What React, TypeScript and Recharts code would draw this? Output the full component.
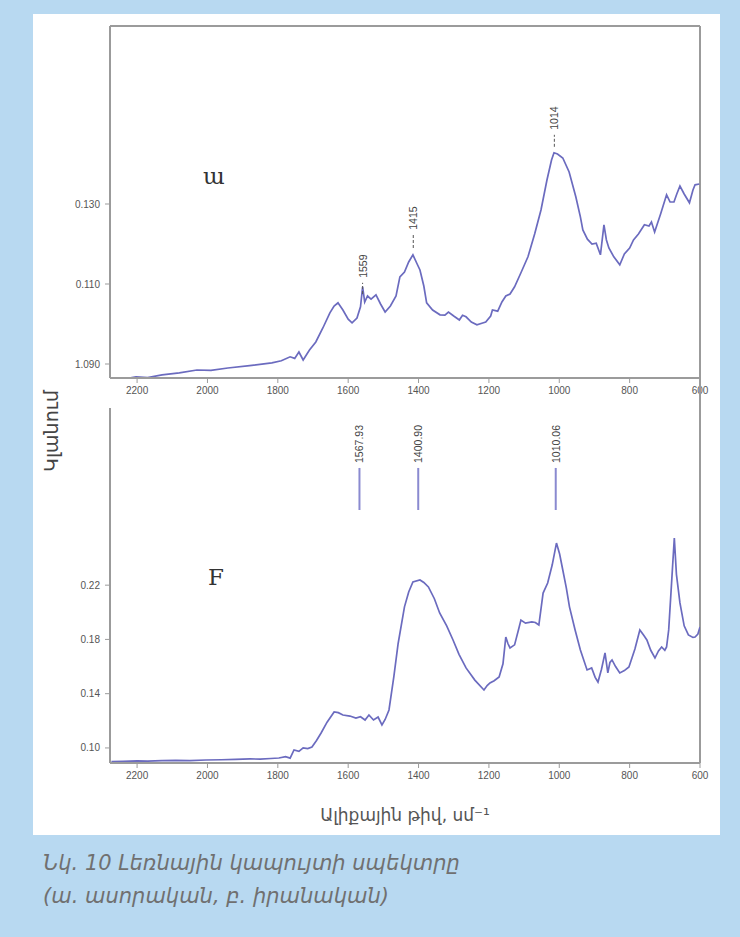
import { Label, Line, LineChart, ReferenceLine, XAxis, YAxis } from "recharts";

// wavenumber (cm-1) and absorbance
const topWavenumbers = [
  2273, 2240, 2203, 2170, 2129, 2080, 2030, 1990, 1942, 1880, 1817, 1790, 1765, 1752, 1740, 1728, 1710,
  1692, 1672, 1652, 1640, 1629, 1615, 1600, 1589, 1575, 1565, 1559, 1553, 1545, 1535, 1521, 1508, 1495,
  1480, 1464, 1453, 1440, 1428, 1416, 1404, 1396, 1385, 1377, 1360, 1339, 1325, 1315, 1300, 1284, 1275,
  1265, 1250, 1234, 1220, 1209, 1195, 1190, 1175, 1163, 1152, 1140, 1127, 1108, 1089, 1070, 1052, 1035,
  1022, 1015, 1005, 990, 972, 953, 940, 933, 920, 907, 895, 883, 873, 866, 859, 845, 828, 815, 800, 789,
  775, 758, 745, 738, 729, 712, 695, 685, 674, 666, 657, 645, 630, 620, 614, 602,
];
const topAbsorbance = [
  0.0865, 0.0862, 0.0868, 0.0866, 0.0873, 0.0878, 0.0885, 0.0884, 0.089, 0.0896, 0.0903, 0.0908, 0.0918,
  0.0914, 0.093, 0.091, 0.0935, 0.0955, 0.099, 0.1028, 0.1045, 0.1053, 0.1035, 0.1012, 0.1003, 0.1015,
  0.1043, 0.1093, 0.1055, 0.107, 0.1062, 0.1073, 0.105, 0.103, 0.1045, 0.107, 0.1118, 0.113, 0.1155,
  0.1173, 0.115, 0.1135, 0.1095, 0.1053, 0.1035, 0.1023, 0.1022, 0.103, 0.102, 0.101, 0.1022, 0.1018,
  0.1005, 0.0998, 0.1002, 0.1005, 0.102, 0.1035, 0.1032, 0.1055, 0.107, 0.1075, 0.1093, 0.113, 0.1168,
  0.1225, 0.1285, 0.136, 0.141, 0.1428, 0.1425, 0.1415, 0.138, 0.1318, 0.1268, 0.1235, 0.1212, 0.12,
  0.1202, 0.1173, 0.1248, 0.121, 0.119, 0.1168, 0.1148, 0.1175, 0.119, 0.121, 0.1225, 0.1248, 0.1245,
  0.1255, 0.123, 0.1275, 0.1323, 0.1305, 0.1305, 0.1325, 0.1345, 0.1325, 0.1303, 0.1335, 0.1348, 0.135,
];

const bottomWavenumbers = [
  2273, 2240, 2200, 2170, 2129, 2090, 2050, 2004, 1960, 1920, 1879, 1850, 1820, 1797, 1778, 1765, 1754,
  1740, 1728, 1715, 1703, 1690, 1677, 1660, 1640, 1628, 1615, 1595, 1578, 1565, 1552, 1541, 1528, 1515,
  1504, 1495, 1484, 1470, 1458, 1440, 1428, 1416, 1396, 1385, 1372, 1355, 1340, 1320, 1302, 1285, 1265,
  1240, 1214, 1205, 1197, 1185, 1171, 1160, 1152, 1146, 1140, 1127, 1115, 1109, 1096, 1078, 1068, 1058,
  1046, 1033, 1020, 1008, 999, 990, 980, 971, 955, 940, 921, 908, 898, 890, 880, 870, 862, 856, 850, 840,
  828, 815, 802, 785, 771, 760, 751, 740, 728, 718, 709, 700, 695, 689, 680, 673, 667, 657, 645, 633, 620,
  614, 606, 600,
];
const bottomAbsorbance = [
  0.0899, 0.0902, 0.0905, 0.0903, 0.0906, 0.0908, 0.0907, 0.0911, 0.0913, 0.0916, 0.0919, 0.0918, 0.0922,
  0.0926, 0.0936, 0.0925, 0.0985, 0.0975, 0.1, 0.0995, 0.1007, 0.1055, 0.111, 0.119, 0.1265, 0.126,
  0.1243, 0.1235, 0.122, 0.123, 0.1206, 0.1243, 0.1206, 0.1228, 0.117, 0.121, 0.128, 0.153, 0.177, 0.204,
  0.215, 0.2223, 0.2238, 0.222, 0.2187, 0.21, 0.1995, 0.19, 0.1796, 0.169, 0.159, 0.15, 0.1427, 0.146,
  0.1479, 0.1495, 0.1523, 0.162, 0.1818, 0.177, 0.1737, 0.176, 0.188, 0.1943, 0.192, 0.1929, 0.1925,
  0.1906, 0.2142, 0.2216, 0.235, 0.251, 0.243, 0.2312, 0.218, 0.204, 0.187, 0.1722, 0.1575, 0.159, 0.152,
  0.1486, 0.158, 0.17, 0.1553, 0.163, 0.1649, 0.16, 0.1553, 0.157, 0.1597, 0.173, 0.187, 0.183, 0.1796,
  0.172, 0.1663, 0.1715, 0.1744, 0.172, 0.1744, 0.187, 0.225, 0.2548, 0.228, 0.2069, 0.19, 0.1833, 0.1815,
  0.1818, 0.184, 0.1892,
];

const xTicks = [2200, 2000, 1800, 1600, 1400, 1200, 1000, 800, 600];
const topYTicks = [0.09, 0.11, 0.13];
const topYLabels = ["1.090", "0.110", "0.130"];
const bottomYTicks = [0.1, 0.14, 0.18, 0.22];
const bottomYLabels = ["0.10", "0.14", "0.18", "0.22"];

const topPeaks = [1559, 1415, 1014];
const topPeakLabels = ["1559", "1415", "1014"];
const topPeakFrom = [0.1075, 0.119, 0.1443];
const topPeakTo = [0.1103, 0.1223, 0.1473];

const bottomPeaks = [1567.93, 1400.9, 1010.06];
const bottomPeakLabels = ["1567.93", "1400.90", "1010.06"];
const bottomPeakFrom = 0.2754;
const bottomPeakTo = 0.3064;

const topData = topWavenumbers.map((w, i) => ({ w, v: topAbsorbance[i] }));
const bottomData = bottomWavenumbers.map((w, i) => ({ w, v: bottomAbsorbance[i] }));

const X_DOMAIN: [number, number] = [600, 2277];
const TOP_Y: [number, number] = [0.0865, 0.1745];
const BOTTOM_Y: [number, number] = [0.0889, 0.3506];
const LINE = "#6b6bbf";
const AXIS = "#9b9b9b";
const tickStyle = { fontSize: 10, fill: "#555", fontFamily: "'Liberation Sans', Arial, sans-serif" };

const PeakLabel = (props: any) => {
  const vb = props.viewBox || {};
  const x = (vb.x ?? 0) + (vb.width ?? 0) / 2;
  const y = (vb.y ?? 0) - 5;
  return (
    <text
      x={x}
      y={y}
      transform={`rotate(-90 ${x} ${y})`}
      textAnchor="start"
      dominantBaseline="central"
      fontSize={10.5}
      fill="#444"
      fontFamily="'Liberation Sans', Arial, sans-serif"
    >
      {props.value}
    </text>
  );
};

const fmt = (ticks: number[], labels: string[]) => (v: number) => {
  const i = ticks.findIndex((t) => Math.abs(t - v) < 1e-6);
  return i >= 0 ? labels[i] : "";
};

export default function App() {
  return (
    <div
      style={{
        position: "absolute",
        left: 0,
        top: 0,
        width: 740,
        height: 937,
        background: "#b8d9f1",
        overflow: "hidden",
      }}
    >
      <div style={{ position: "absolute", left: 33, top: 14, width: 687, height: 821, background: "#fff" }} />

      <div style={{ position: "absolute", left: 0, top: 0 }}>
        <LineChart width={740} height={420} data={topData} margin={{ top: 26, right: 40, bottom: 0, left: 0 }}>
          <XAxis
            dataKey="w"
            type="number"
            domain={X_DOMAIN}
            reversed
            ticks={xTicks}
            allowDataOverflow
            height={42}
            tick={tickStyle}
            tickSize={5}
            tickMargin={4}
            axisLine={{ stroke: AXIS, strokeWidth: 2 }}
            tickLine={{ stroke: AXIS }}
          />
          <YAxis
            type="number"
            domain={TOP_Y}
            ticks={topYTicks}
            tickFormatter={fmt(topYTicks, topYLabels)}
            allowDataOverflow
            width={110}
            tick={tickStyle}
            tickSize={5}
            tickMargin={5}
            axisLine={{ stroke: AXIS, strokeWidth: 2 }}
            tickLine={{ stroke: AXIS }}
          />
          {/* frame: top and right edges */}
          <ReferenceLine y={TOP_Y[1]} stroke={AXIS} strokeWidth={2} />
          <ReferenceLine x={X_DOMAIN[0]} stroke={AXIS} strokeWidth={2} />
          <Line
            dataKey="v"
            stroke={LINE}
            strokeWidth={1.7}
            dot={false}
            isAnimationActive={false}
            type="linear"
          />
          {topPeaks.map((p, i) => (
            <ReferenceLine
              key={p}
              segment={[
                { x: p, y: topPeakFrom[i] },
                { x: p, y: topPeakTo[i] },
              ]}
              stroke="#555"
              strokeWidth={1}
              strokeDasharray="3 2"
            >
              <Label value={topPeakLabels[i]} content={PeakLabel} />
            </ReferenceLine>
          ))}
        </LineChart>
      </div>

      <div style={{ position: "absolute", left: 0, top: 380 }}>
        <LineChart width={740} height={460} data={bottomData} margin={{ top: 28, right: 40, bottom: 0, left: 0 }}>
          <XAxis
            dataKey="w"
            type="number"
            domain={X_DOMAIN}
            reversed
            ticks={xTicks}
            allowDataOverflow
            height={77}
            tick={tickStyle}
            tickSize={5}
            tickMargin={4}
            axisLine={{ stroke: AXIS, strokeWidth: 2 }}
            tickLine={{ stroke: AXIS }}
          >
            <Label
              value="Ալիքային թիվ, սմ⁻¹"
              position="insideBottom"
              offset={19}
              fill="#555"
              fontSize={17}
              fontFamily="'DejaVu Sans', sans-serif"
            />
          </XAxis>
          <YAxis
            type="number"
            domain={BOTTOM_Y}
            ticks={bottomYTicks}
            tickFormatter={fmt(bottomYTicks, bottomYLabels)}
            allowDataOverflow
            width={110}
            tick={tickStyle}
            tickSize={5}
            tickMargin={5}
            axisLine={{ stroke: AXIS, strokeWidth: 2 }}
            tickLine={{ stroke: AXIS }}
          />
          <ReferenceLine x={X_DOMAIN[0]} stroke={AXIS} strokeWidth={2} />
          <Line
            dataKey="v"
            stroke={LINE}
            strokeWidth={1.7}
            dot={false}
            isAnimationActive={false}
            type="linear"
          />
          {bottomPeaks.map((p, i) => (
            <ReferenceLine
              key={p}
              segment={[
                { x: p, y: bottomPeakFrom },
                { x: p, y: bottomPeakTo },
              ]}
              stroke="#8a8ad0"
              strokeWidth={2}
            >
              <Label value={bottomPeakLabels[i]} content={PeakLabel} />
            </ReferenceLine>
          ))}
        </LineChart>
      </div>

      {/* right frame continues between the two panels */}
      <div style={{ position: "absolute", left: 699, top: 378, width: 2, height: 32, background: AXIS }} />

      <div
        style={{
          position: "absolute",
          left: 51,
          top: 431,
          transform: "translate(-50%, -50%) rotate(-90deg)",
          fontFamily: "'DejaVu Sans', sans-serif",
          fontSize: 19,
          color: "#444",
          whiteSpace: "nowrap",
        }}
      >
        Կլանում
      </div>

      <div
        style={{
          position: "absolute",
          left: 203,
          top: 163,
          fontFamily: "'DejaVu Serif', serif",
          fontSize: 23,
          color: "#333",
        }}
      >
        ա
      </div>
      <div
        style={{
          position: "absolute",
          left: 208,
          top: 564,
          fontFamily: "'DejaVu Serif', serif",
          fontSize: 23,
          color: "#333",
        }}
      >
        F
      </div>

      <div
        style={{
          position: "absolute",
          left: 43,
          top: 847,
          fontFamily: "'DejaVu Sans', sans-serif",
          fontStyle: "italic",
          fontSize: 21,
          lineHeight: "33px",
          color: "#707070",
        }}
      >
        <div>Նկ. 10 Լեռնային կապույտի սպեկտրը</div>
        <div>(ա. ասորական, բ. իրանական)</div>
      </div>
    </div>
  );
}
